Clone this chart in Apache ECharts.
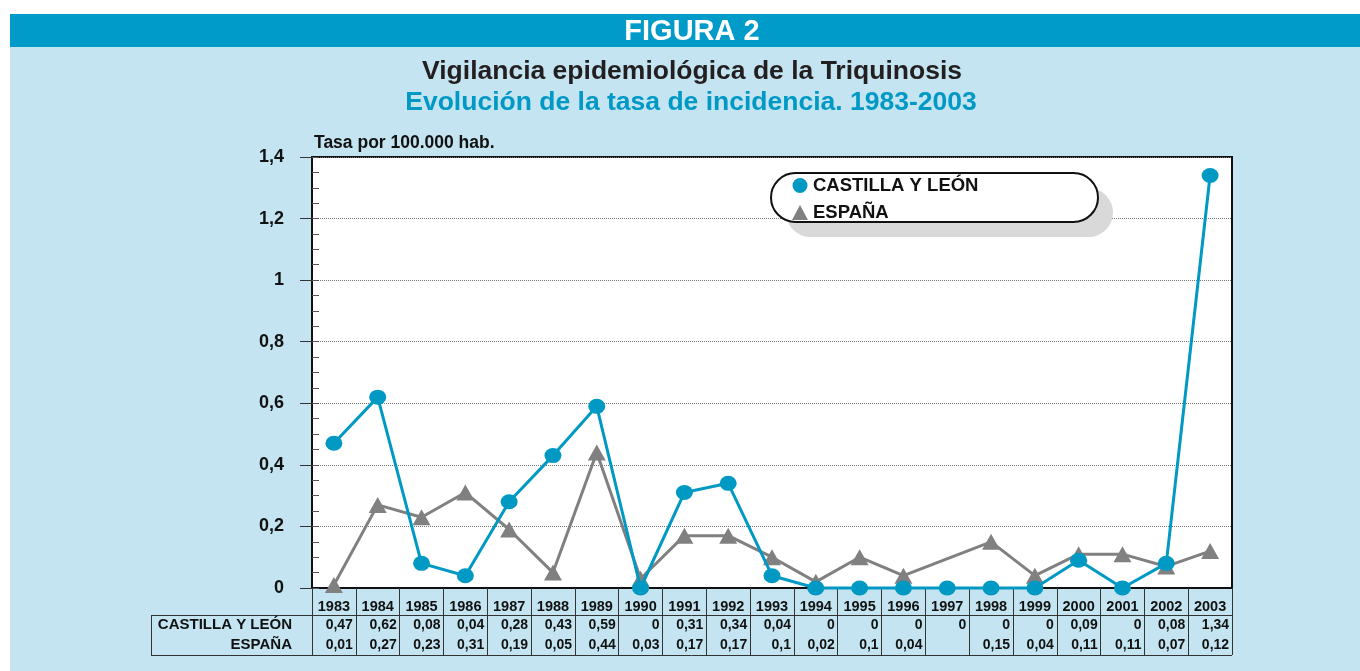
<!DOCTYPE html>
<html>
<head>
<meta charset="utf-8">
<title>Triquinosis 1983-2003</title>
<script src="https://cdn.jsdelivr.net/npm/echarts@6/dist/echarts.min.js"></script>
<style>
body{margin:0;background:#fff;}
#cab{position:absolute;left:10px;top:14px;width:1350px;height:33px;background:#009bc9;}
#fondo{position:absolute;left:10px;top:47px;width:1350px;height:624px;background:#c3e4f0;}
#main{position:absolute;left:0;top:0;width:1360px;height:671px;}
</style>
</head>
<body>
<div id="cab"></div>
<div id="fondo"></div>
<div id="main"></div>
<script type="text/javascript">

// datos
var anios  = ['1983','1984','1985','1986','1987','1988','1989','1990','1991','1992','1993',
              '1994','1995','1996','1997','1998','1999','2000','2001','2002','2003'];
var cyl    = [0.47,0.62,0.08,0.04,0.28,0.43,0.59,0,0.31,0.34,0.04,0,0,0,0,0,0,0.09,0,0.08,1.34];
var espana = [0.01,0.27,0.23,0.31,0.19,0.05,0.44,0.03,0.17,0.17,0.1,0.02,0.1,0.04,null,0.15,0.04,0.11,0.11,0.07,0.12];
var ticksY = [0,0.2,0.4,0.6,0.8,1,1.2,1.4];

var fuente = "'Liberation Sans', Arial, sans-serif";

function coma(v){
    if (v === null || v === undefined) return ' ';
    return String(v).replace('.', ',');
}

var myChart = echarts.init(document.getElementById('main'));

var celda = {fontFamily: fuente, fontSize: 14, fontWeight: 'bold', color: '#111', width: 38};

option = {
    animation: false,
    textStyle: {fontFamily: fuente},
    grid: {
        left: 312, right: 128, top: 157, bottom: 83,
        show: true, backgroundColor: '#fff', borderColor: '#111', borderWidth: 2,
        containLabel: false, outerBoundsMode: 'none'
    },
    legend: {
        orient: 'vertical', left: 792, top: 176, itemGap: 8,
        itemWidth: 16, itemHeight: 15, padding: 0, selectedMode: false, z: 10,
        data: [{name: 'CASTILLA Y LEÓN', icon: 'circle'}, {name: 'ESPAÑA', icon: 'triangle'}],
        textStyle: {fontFamily: fuente, fontSize: 18.5, fontWeight: 'bold', color: '#111'}
    },
    xAxis: {
        type: 'category',
        data: anios,
        boundaryGap: true,
        axisLine: {lineStyle: {color: '#111', width: 2}},
        axisTick: {show: true, length: 67, lineStyle: {color: '#333', width: 1}},
        axisLabel: {
            interval: 0, margin: 10,
            formatter: function (v, i) {
                return '{y|' + v + '}\n{a|' + coma(cyl[i]) + '}\n{b|' + coma(espana[i]) + '}';
            },
            rich: {
                y: Object.assign({}, celda, {fontSize: 14.5, lineHeight: 18, align: 'center'}),
                a: Object.assign({}, celda, {lineHeight: 19, align: 'right'}),
                b: Object.assign({}, celda, {lineHeight: 20, align: 'right'})
            }
        }
    },
    yAxis: [
        {
            type: 'value', position: 'left', min: ticksY[0], max: ticksY[ticksY.length - 1], interval: 0.2,
            axisLine: {show: true, lineStyle: {color: '#111', width: 2}},
            axisTick: {show: true, length: 12, lineStyle: {color: '#333'}},
            axisLabel: {margin: 28, fontSize: 18, fontWeight: 'bold', color: '#111', formatter: coma},
            splitLine: {show: true, lineStyle: {type: 'dotted', color: '#777', width: 1}}
        },
        {   // marcas menores hacia dentro
            type: 'value', position: 'left', offset: 0, min: 0, max: 1.4, interval: 0.05,
            axisLine: {show: false},
            axisTick: {show: true, inside: true, length: 7, lineStyle: {color: '#555'}},
            axisLabel: {show: false},
            splitLine: {show: false}
        }
    ],
    series: [
        {
            name: 'CASTILLA Y LEÓN', type: 'line', data: cyl, yAxisIndex: 0,
            symbol: 'circle', symbolSize: [17, 15], clip: false, z: 4,
            lineStyle: {width: 3, color: '#0099c4'},
            itemStyle: {color: '#0099c4'}
        },
        {
            name: 'ESPAÑA', type: 'line', data: espana, yAxisIndex: 0, connectNulls: true,
            symbol: 'triangle', symbolSize: [18, 16], clip: false, z: 3,
            lineStyle: {width: 3, color: '#808080'},
            itemStyle: {color: '#808080'}
        }
    ],
    graphic: [
        {type: 'text', x: 692, y: 32, z: 5, style: {text: 'FIGURA 2', fill: '#fff', font: 'bold 29px ' + fuente, textAlign: 'center', textVerticalAlign: 'middle'}},
        {type: 'text', x: 692, y: 72, z: 5, style: {text: 'Vigilancia epidemiológica de la Triquinosis', fill: '#231f20', font: 'bold 26.5px ' + fuente, textAlign: 'center', textVerticalAlign: 'middle'}},
        {type: 'text', x: 691, y: 103, z: 5, style: {text: 'Evolución de la tasa de incidencia. 1983-2003', fill: '#0099c6', font: 'bold 26.5px ' + fuente, textAlign: 'center', textVerticalAlign: 'middle'}},
        {type: 'text', x: 314, y: 143, z: 5, style: {text: 'Tasa por 100.000 hab.', fill: '#111', font: 'bold 17.5px ' + fuente, textAlign: 'left', textVerticalAlign: 'middle'}},
        // cápsula de la leyenda con sombra
        {type: 'rect', z: 6, shape: {x: 786, y: 188, width: 327, height: 49, r: 24.5}, style: {fill: '#d9d9d9'}},
        {type: 'rect', z: 7, shape: {x: 771, y: 173, width: 327, height: 49, r: 24.5}, style: {fill: '#fff', stroke: '#111', lineWidth: 2}},
        // tabla
        {type: 'line', z: 5, shape: {x1: 151, y1: 615.5, x2: 1232, y2: 615.5}, style: {stroke: '#333', lineWidth: 1}},
        {type: 'line', z: 5, shape: {x1: 151, y1: 655.5, x2: 1232, y2: 655.5}, style: {stroke: '#333', lineWidth: 1}},
        {type: 'line', z: 5, shape: {x1: 151.5, y1: 615, x2: 151.5, y2: 656}, style: {stroke: '#333', lineWidth: 1}},
        {type: 'text', x: 292, y: 625, z: 5, style: {text: 'CASTILLA Y LEÓN', fill: '#111', font: 'bold 15px ' + fuente, textAlign: 'right', textVerticalAlign: 'middle'}},
        {type: 'text', x: 292, y: 645, z: 5, style: {text: 'ESPAÑA', fill: '#111', font: 'bold 15px ' + fuente, textAlign: 'right', textVerticalAlign: 'middle'}}
    ]
};

myChart.setOption(option);

</script>
</body>
</html>
